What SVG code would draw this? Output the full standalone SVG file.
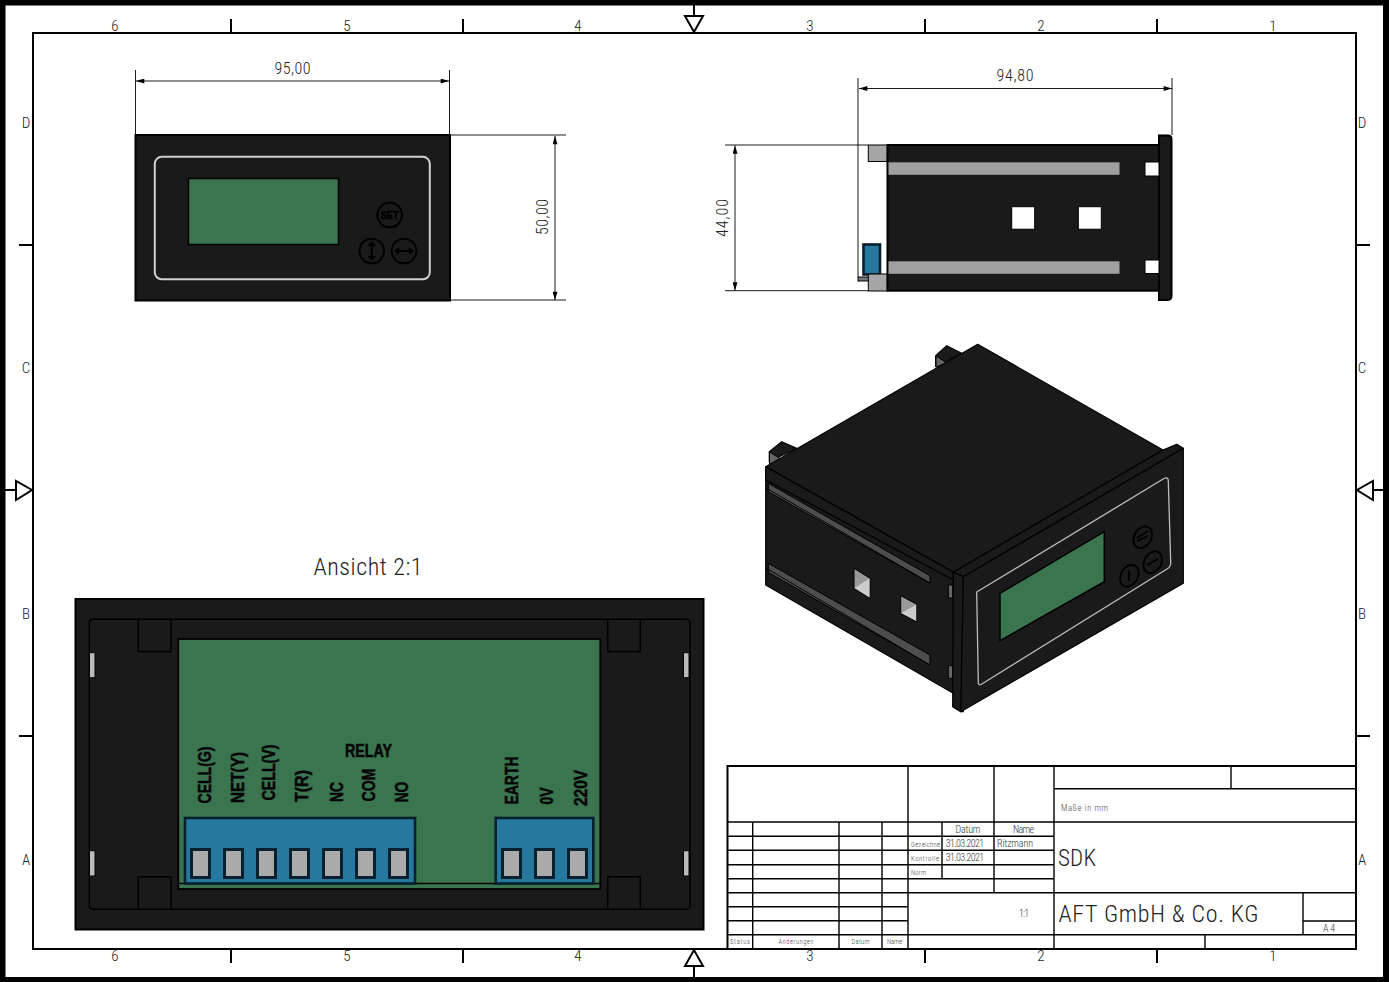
<svg xmlns="http://www.w3.org/2000/svg" width="1389" height="982" viewBox="0 0 1389 982">
<style>
text{font-family:"Liberation Sans Narrow","Roboto Condensed","Roboto",sans-serif;font-weight:300;fill:#222;text-anchor:middle;dominant-baseline:central}
.l{text-anchor:start}
.t{font-size:15px}
.dim{font-size:16px}
.s{font-size:6.500px;fill:#444}
.m{font-size:10px;fill:#333}
.b{font-family:"Liberation Sans",Arial,sans-serif;font-weight:700;font-size:19px;fill:#050505;stroke:#050505;stroke-width:.5;text-anchor:start;dominant-baseline:central}
.ln{stroke:#000;stroke-width:2;fill:none}
.tb{stroke:#000;stroke-width:1.4;fill:none}
.d{stroke:#000;stroke-width:.9;fill:none}
.k{fill:#1a1a1a;stroke:#000;stroke-width:1.2;stroke-linejoin:round}
.bn{fill:#1a1a1a;stroke:#000;stroke-width:2}
.gy{fill:#a6a6a6;stroke:#000;stroke-width:1}
.gr{fill:#3a7550;stroke:#000;stroke-width:1.5}
.bl{fill:#27789f;stroke:#05202e;stroke-width:2.6}
.pin{fill:#aaa;stroke:#05202e;stroke-width:3}
.wh{fill:#fff;stroke:#000;stroke-width:1}
.ar{fill:#fff;stroke:#000;stroke-width:2}
</style>
<defs>
<marker id="a" viewBox="0 0 10 6" refX="10" refY="3" markerWidth="10" markerHeight="5" orient="auto-start-reverse" markerUnits="userSpaceOnUse"><path d="M0 0L10 3L0 6Z" fill="#000"/></marker>
</defs>
<rect width="1389" height="982" fill="#fff"/>
<g id="sheet-frame">
<rect x="2.500" y="2.500" width="1383.500" height="977.500" fill="none" stroke="#000" stroke-width="6"/>
<rect class="ln" x="33" y="33" width="1323" height="916"/>
<path class="ln" d="M231 19V33M463 19V33M925 19V33M1157 19V33M231 949V963M463 949V963M925 949V963M1157 949V963M19 245H33M19 736H33M1356 245H1370M1356 736H1370M694 4V33M694 949V978M4 490H33M1356 490H1385"/>
<path class="ar" d="M685 16H703L694 32ZM685 966H703L694 950ZM16 481V500L32 490ZM1373 481V500L1357 490Z"/>
<text class="t" x="115" y="26">6</text><text class="t" x="347" y="26">5</text><text class="t" x="578" y="26">4</text><text class="t" x="810" y="26">3</text><text class="t" x="1041" y="26">2</text><text class="t" x="1273" y="26">1</text>
<text class="t" x="115" y="956">6</text><text class="t" x="347" y="956">5</text><text class="t" x="578" y="956">4</text><text class="t" x="810" y="956">3</text><text class="t" x="1041" y="956">2</text><text class="t" x="1273" y="956">1</text>
<text class="t" x="26" y="123">D</text><text class="t" x="26" y="368">C</text><text class="t" x="26" y="614">B</text><text class="t" x="26" y="860">A</text>
<text class="t" x="1362" y="123">D</text><text class="t" x="1362" y="368">C</text><text class="t" x="1362" y="614">B</text><text class="t" x="1362" y="860">A</text>
</g>
<g id="connectors">
<path class="d" d="M135.500 70V134M449.500 70V134"/>
<path class="d" marker-start="url(#a)" marker-end="url(#a)" d="M136 81H449"/>
<path class="d" d="M451 135H566M451 300H566"/>
<path class="d" marker-start="url(#a)" marker-end="url(#a)" d="M555 136V300"/>
<path class="d" d="M858 78V277M1172 78V135"/>
<path class="d" marker-start="url(#a)" marker-end="url(#a)" d="M859 88.500H1172"/>
<path class="d" d="M725 145H868M725 290.700H868"/>
<path class="d" marker-start="url(#a)" marker-end="url(#a)" d="M735 145.500V290.500"/>
</g>
<g id="dimension-labels">
<text class="dim" x="292.500" y="68" textLength="36" lengthAdjust="spacing">95,00</text>
<text class="dim" transform="translate(542 217) rotate(-90)" textLength="36" lengthAdjust="spacing">50,00</text>
<text class="dim" x="1015" y="75.500" textLength="37" lengthAdjust="spacing">94,80</text>
<text class="dim" transform="translate(722 218) rotate(-90)" textLength="38" lengthAdjust="spacing">44,00</text>
<text x="368" y="567" style="font-size:24px" textLength="109" lengthAdjust="spacing">Ansicht  2:1</text>
</g>
<g id="front-view">
<rect class="bn" x="135.500" y="135" width="314.500" height="165.500"/>
<rect x="154.800" y="156.800" width="275" height="122.500" rx="7" fill="#1a1a1a" stroke="#d0d0d0" stroke-width="2"/>
<rect class="gr" x="188.500" y="178.500" width="150" height="66"/>
<g fill="none" stroke="#000" stroke-width="2">
<circle cx="389.700" cy="215" r="12.300"/><circle cx="371.700" cy="251" r="12.300"/><circle cx="404" cy="251" r="12.300"/>
<path stroke-width="1.800" d="M371.700 243V259M368.500 246L371.700 242.500L375 246M368.500 256L371.700 259.500L375 256M396 251H412M399 248L395.500 251L399 254M409 248L412.500 251L409 254"/>
</g>
<text x="389.700" y="215" style="font-family:'Liberation Sans',sans-serif;font-weight:700;font-size:10px;fill:#000;stroke:#000;stroke-width:.5" textLength="18" lengthAdjust="spacingAndGlyphs">SET</text>
</g>
<g id="side-view">
<rect class="gy" x="868.300" y="145" width="19" height="16.500"/>
<rect class="bl" x="863.500" y="244.500" width="16.500" height="30"/>
<rect x="858" y="277" width="11" height="4" fill="#777" stroke="#000"/>
<rect class="gy" x="868.300" y="274" width="19" height="17"/>
<rect class="bn" x="887.500" y="145" width="273" height="145.700"/>
<path class="bn" d="M1159 135.500H1168Q1171.500 135.500 1171.500 139V296Q1171.500 300 1167 300H1159Z"/>
<rect fill="#a0a0a0" x="888.500" y="162.300" width="231" height="12.500"/>
<rect fill="#a0a0a0" x="888.500" y="261.300" width="231" height="12.500"/>
<rect class="wh" x="1145" y="162" width="14" height="14"/>
<rect class="wh" x="1145" y="260" width="14" height="13.500"/>
<rect class="wh" x="1011.700" y="206.700" width="23" height="22.500"/>
<rect class="wh" x="1078.300" y="206.700" width="23" height="22.500"/>
</g>
<g id="isometric-view">
<path class="k" d="M935.700 366.700V355.700L946.700 345.700L961.700 353.300Z"/>
<path fill="#666" stroke="#000" d="M936 356L947 363L936 367Z"/>
<path class="k" d="M769.300 461.700V451.700L781.700 441.700L796.700 448.300Z"/>
<path fill="#666" stroke="#000" d="M769.500 452L784 461L769.500 464Z"/>
<path class="k" d="M765.700 466.700L977.700 344.300L1163 450L953.300 572.300Z"/>
<path class="k" d="M765.700 466.700L953.300 572.300V693.300L765.700 585Z"/>
<path class="k" d="M765.700 466.700L953.300 572.300V580L765.700 480Z"/>
<path fill="#4d4d4d" stroke="#000" d="M768.300 483.300L930 575.700V583.300L768.300 491.700Z"/>
<path fill="#4d4d4d" stroke="#000" d="M768.300 563.300L930 655V665L768.300 572.300Z"/>
<path d="M766 488L930 583M766 568L930 665" stroke="#000" stroke-width="1" fill="none"/>
<path fill="#999" stroke="#000" d="M854 568.300L870 578.300V598.300L854 588.300Z"/>
<path fill="#ccc" d="M854.500 588L869.500 578.500V597.500Z"/>
<path fill="#999" stroke="#000" d="M900.700 595.700L916.700 604.300V621.700L900.700 613.300Z"/>
<path fill="#ccc" d="M901.200 613L916.200 604.800V621Z"/>
<rect x="948.300" y="585" width="4.500" height="13" fill="#666" stroke="#000"/>
<rect x="948.300" y="665.700" width="4.500" height="12.600" fill="#666" stroke="#000"/>
<path class="k" d="M953.300 572.300L1163 450L1176.700 444.300L1183.300 448.300L963.300 576.700Z"/>
<path class="k" d="M953.300 572.300L963.300 576.700V711.700H960.700L952.700 706.700Z"/>
<path class="k" d="M963.300 576.700L1183.300 448.300V583.300L960.700 711.700Z"/>
<path fill="none" stroke="#bdbdbd" stroke-width="1.300" stroke-linejoin="round" d="M976.700 592L1164 478.500Q1168.300 476.500 1168.300 481L1170.700 563Q1170.700 567 1167 569L981 684.500Q978.300 686 978.300 682Z"/>
<path class="gr" d="M1000 593.300L1104.300 531.700V581.700L1000 640.700Z"/>
<g fill="#1a1a1a" stroke="#000" stroke-width="1.800">
<ellipse cx="1142.700" cy="537.300" rx="8.500" ry="11.500" transform="rotate(30 1142.700 537.300)"/>
<ellipse cx="1152.700" cy="562.300" rx="8.500" ry="11.500" transform="rotate(30 1152.700 562.300)"/>
<ellipse cx="1129.300" cy="575.700" rx="8.500" ry="11.500" transform="rotate(30 1129.300 575.700)"/>
</g>
<path d="M1137 538L1148 531M1137 541L1148 536M1147 565L1158 559M1129 570V581" stroke="#000" stroke-width="1.800" fill="none"/>
</g>
<g id="rear-view">
<rect class="bn" x="75.500" y="599" width="628" height="330.500"/>
<rect x="89.300" y="619.300" width="600.700" height="290" rx="3.500" fill="#1a1a1a" stroke="#000" stroke-width="1.500"/>
<path d="M138.300 619.300V651.500H171V619.300M138.300 909V876.700H171V909M607.700 619.300V651.500H640.300V619.300M607.700 909V876.700H640.300V909" fill="none" stroke="#000" stroke-width="1.500"/>
<rect fill="#bbb" stroke="#000" x="89.500" y="652.700" width="5.500" height="25"/>
<rect fill="#bbb" stroke="#000" x="89.500" y="850.700" width="5.500" height="25.300"/>
<rect fill="#bbb" stroke="#000" x="683.500" y="652.700" width="5.500" height="25"/>
<rect fill="#bbb" stroke="#000" x="683.500" y="850.700" width="5.500" height="25.300"/>
<rect x="178.300" y="639" width="422" height="250" fill="#3a7550" stroke="#000" stroke-width="1.800"/>
<path d="M178.300 883.500H600.300" stroke="#000" stroke-width="1.500"/>
<rect class="bl" x="185" y="818" width="230" height="65.500"/>
<rect class="bl" x="495.700" y="818" width="97.600" height="65.500"/>
<rect class="pin" x="191.500" y="849.500" width="18" height="28"/>
<rect class="pin" x="224.500" y="849.500" width="18" height="28"/>
<rect class="pin" x="257.500" y="849.500" width="18" height="28"/>
<rect class="pin" x="290.500" y="849.500" width="18" height="28"/>
<rect class="pin" x="323.500" y="849.500" width="18" height="28"/>
<rect class="pin" x="356.500" y="849.500" width="18" height="28"/>
<rect class="pin" x="389.500" y="849.500" width="18" height="28"/>
<rect class="pin" x="502.500" y="849.500" width="18" height="28"/>
<rect class="pin" x="535.500" y="849.500" width="18" height="28"/>
<rect class="pin" x="568.500" y="849.500" width="18" height="28"/>
<text class="b" transform="translate(204 803.500) rotate(-90)" textLength="57" lengthAdjust="spacingAndGlyphs">CELL(G)</text>
<text class="b" transform="translate(237 803) rotate(-90)" textLength="51" lengthAdjust="spacingAndGlyphs">NET(Y)</text>
<text class="b" transform="translate(268.500 800.500) rotate(-90)" textLength="56" lengthAdjust="spacingAndGlyphs">CELL(V)</text>
<text class="b" transform="translate(301 802) rotate(-90)" textLength="32" lengthAdjust="spacingAndGlyphs">T(R)</text>
<text class="b" transform="translate(336.700 802) rotate(-90)" textLength="20" lengthAdjust="spacingAndGlyphs">NC</text>
<text class="b" transform="translate(368.500 801.500) rotate(-90)" textLength="33" lengthAdjust="spacingAndGlyphs">COM</text>
<text class="b" transform="translate(401.700 802.500) rotate(-90)" textLength="21" lengthAdjust="spacingAndGlyphs">NO</text>
<text class="b" x="345" y="750.500" textLength="47" lengthAdjust="spacingAndGlyphs">RELAY</text>
<text class="b" transform="translate(511.700 804.500) rotate(-90)" textLength="48" lengthAdjust="spacingAndGlyphs">EARTH</text>
<text class="b" transform="translate(546.700 804.500) rotate(-90)" textLength="17" lengthAdjust="spacingAndGlyphs">0V</text>
<text class="b" transform="translate(580 806) rotate(-90)" textLength="36" lengthAdjust="spacingAndGlyphs">220V</text>
</g>
<g id="title-block">
<rect class="ln" x="727.500" y="766" width="628.500" height="183"/>
<path class="tb" d="M727.500 822H1356M727.500 836.300H1054M727.500 850.300H1054M727.500 864.700H1054M727.500 878.700H1054M727.500 892.700H908M727.500 906.700H908M727.500 920.700H908M727.500 934.700H1356M908 892.700H1356M752.700 822V949M839 822V949M882 822V949M908 766V949M942 822V878.700M994 766V892.700M1054 766V949M1054 788.700H1356M1231 766V788.700M1303 892.700V934.700M1303 921H1356M1205 934.700V949"/>
<text class="m" x="968" y="829.800" textLength="25" lengthAdjust="spacing">Datum</text>
<text class="m" x="1023.500" y="829.800" textLength="21" lengthAdjust="spacing">Name</text>
<text class="s l" x="911" y="844.500" textLength="29" lengthAdjust="spacing">Gezeichne</text>
<text class="s l" x="911" y="858.500" textLength="28" lengthAdjust="spacing">Kontrolle</text>
<text class="s l" x="911" y="872.500" textLength="15" lengthAdjust="spacing">Norm</text>
<text class="m l" x="945.700" y="843.800" textLength="38.500" lengthAdjust="spacing">31.03.2021</text>
<text class="m l" x="945.700" y="857.800" textLength="38.500" lengthAdjust="spacing">31.03.2021</text>
<text class="m l" x="997" y="843.800" textLength="36" lengthAdjust="spacing">Ritzmann</text>
<text class="m" x="1024" y="913.500" textLength="10" lengthAdjust="spacing">1:1</text>
<text class="s" x="740" y="942" textLength="20" lengthAdjust="spacing">Status</text>
<text class="s" x="796" y="942" textLength="35" lengthAdjust="spacing">Änderungen</text>
<text class="s" x="860.500" y="942" textLength="18" lengthAdjust="spacing">Datum</text>
<text class="s" x="894.500" y="942" textLength="15" lengthAdjust="spacing">Name</text>
<text class="l" x="1061" y="807.500" style="font-size:8.500px;fill:#444" textLength="47" lengthAdjust="spacing">Maße in mm</text>
<text class="l" x="1058" y="858" style="font-size:23px" textLength="38" lengthAdjust="spacing">SDK</text>
<text class="l" x="1058.500" y="914" style="font-size:24px" textLength="200" lengthAdjust="spacing">AFT GmbH &amp; Co. KG</text>
<text class="m" x="1329" y="928.500" textLength="12" lengthAdjust="spacing">A4</text>
</g>
</svg>
